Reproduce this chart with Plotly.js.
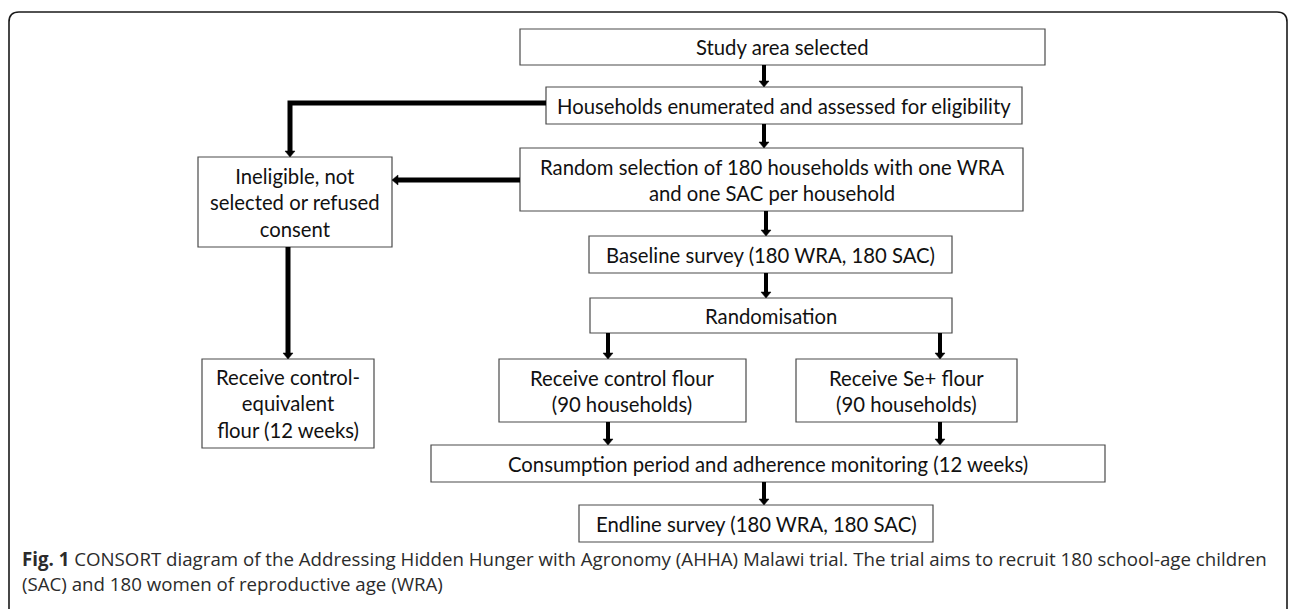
<!DOCTYPE html>
<html>
<head>
<meta charset="utf-8">
<script src="https://cdn.plot.ly/plotly-3.0.1.min.js"></script>
<style>html,body{margin:0;padding:0;background:#fff;}#chart{width:1290px;height:609px;}</style>
</head>
<body>
<div id="chart"></div>
<script>
// ---- Diagram content ----
const boxLabels = [
  "Study area selected",
  "Households enumerated and assessed for eligibility",
  "Random selection of 180 households with one WRA<br>and one SAC per household",
  "Ineligible, not<br>selected or refused<br>consent",
  "Baseline survey (180 WRA, 180 SAC)",
  "Randomisation",
  "Receive control-<br>equivalent<br>flour (12 weeks)",
  "Receive control flour<br>(90 households)",
  "Receive Se+ flour<br>(90 households)",
  "Consumption period and adherence monitoring (12 weeks)",
  "Endline survey (180 WRA, 180 SAC)"
];
const captionLines = [
  "<b>Fig. 1</b> CONSORT diagram of the Addressing Hidden Hunger with Agronomy (AHHA) Malawi trial. The trial aims to recruit 180 school-age children",
  "(SAC) and 180 women of reproductive age (WRA)"
];
// connections: [from box index, to box index]
const links = [[0,1],[1,2],[1,3],[2,3],[2,4],[4,5],[3,6],[5,7],[5,8],[7,9],[8,9],[9,10]];

// ---- Layout geometry (pixel space) ----
const boxLeft   = [520, 546, 520, 198, 589, 590, 202, 499, 796, 431, 579];
const boxRight  = [1045,1022,1023,392, 952, 952, 374, 746, 1017,1105,933];
const boxTop    = [29,  87,  148, 157, 236, 298, 359, 359, 359, 445, 505];
const boxBottom = [65,  124, 211, 247, 273, 333, 448, 422, 422, 482, 542];
// connector routes (pixel polylines), same order as links
const routes = [
  [[764,65],[764,87]],
  [[764,124],[764,148]],
  [[546,103],[290,103],[290,157]],
  [[520,180],[392,180]],
  [[766,211],[766,236]],
  [[766,273],[766,298]],
  [[288,247],[288,359]],
  [[608,333],[608,359]],
  [[940,333],[940,359]],
  [[608,422],[608,445]],
  [[940,422],[940,445]],
  [[764,482],[764,505]]
];
const routeWidth = [4,4,5,5,4,4,5,4,4,4,4,4];

const shapes = [];
const annotations = [];

// outer rounded frame
const fx0 = 9, fy0 = 12, fx1 = 1287, fy1 = 640, r = 10;
shapes.push({
  type: 'path', xref: 'x', yref: 'y',
  path: `M ${fx0},${fy1} L ${fx0},${fy0+r} Q ${fx0},${fy0} ${fx0+r},${fy0} L ${fx1-r},${fy0} Q ${fx1},${fy0} ${fx1},${fy0+r} L ${fx1},${fy1}`,
  line: {color: '#1a1a1a', width: 1.6}
});

// boxes
boxLabels.forEach((lab, i) => {
  shapes.push({
    type: 'rect', xref: 'x', yref: 'y',
    x0: boxLeft[i], x1: boxRight[i], y0: boxTop[i], y1: boxBottom[i],
    line: {color: '#4a4a4a', width: 1.2}, fillcolor: 'rgba(0,0,0,0)'
  });
  annotations.push({
    x: (boxLeft[i] + boxRight[i]) / 2, y: (boxTop[i] + boxBottom[i]) / 2,
    xref: 'x', yref: 'y', text: lab, showarrow: false,
    xanchor: 'center', yanchor: 'middle',
    font: {family: 'Lato, "Open Sans", sans-serif', size: 20.3, color: '#111'}
  });
});

// connectors with arrowheads
routes.forEach((pts, k) => {
  const n = pts.length;
  const [ex, ey] = pts[n-1];
  const [px, py] = pts[n-2];
  const dx = Math.sign(ex - px), dy = Math.sign(ey - py);
  const hl = 6, hw = 5;
  const bx = ex - dx*hl, by = ey - dy*hl;
  let d = `M ${pts[0][0]},${pts[0][1]}`;
  for (let j = 1; j < n-1; j++) d += ` L ${pts[j][0]},${pts[j][1]}`;
  d += ` L ${bx},${by}`;
  shapes.push({type: 'path', xref: 'x', yref: 'y', path: d,
    line: {color: '#000', width: routeWidth[k]}});
  const p1 = [bx - dy*hw, by - dx*hw], p2 = [bx + dy*hw, by + dx*hw];
  shapes.push({type: 'path', xref: 'x', yref: 'y',
    path: `M ${p1[0]},${p1[1]} L ${p2[0]},${p2[1]} L ${ex},${ey} Z`,
    line: {color: '#000', width: 0.5}, fillcolor: '#000'});
});

// caption
const capY = [558, 583];
captionLines.forEach((t, i) => {
  annotations.push({
    x: 20, y: capY[i], xref: 'x', yref: 'y', text: t, showarrow: false,
    xanchor: 'left', yanchor: 'middle',
    font: {family: '"Open Sans", "Noto Sans", sans-serif', size: 18.7, color: '#2b2b2b'}
  });
});

const layout = {
  width: 1290, height: 609,
  margin: {l: 0, r: 0, t: 0, b: 0},
  paper_bgcolor: '#fff', plot_bgcolor: '#fff',
  xaxis: {range: [0, 1290], visible: false, fixedrange: true},
  yaxis: {range: [609, 0], visible: false, fixedrange: true},
  shapes: shapes, annotations: annotations, showlegend: false
};
Plotly.newPlot('chart', [], layout, {displayModeBar: false, staticPlot: true});
</script>
</body>
</html>
